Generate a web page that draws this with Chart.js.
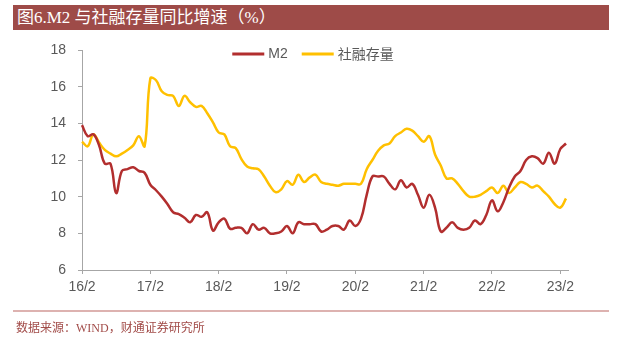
<!DOCTYPE html>
<html>
<head>
<meta charset="utf-8">
<title>M2 与社融存量同比增速</title>
<script src="https://cdn.jsdelivr.net/npm/chart.js@4.4.0/dist/chart.umd.min.js"></script>
<style>
  html, body { margin: 0; padding: 0; background: #fff; }
  #wrap { position: relative; width: 621px; height: 341px; overflow: hidden; }
  #title {
    position: absolute; left: 13px; top: 5px; width: 596px; height: 25px;
    background: #9E4B48; color: #fff; box-sizing: border-box; padding-left: 4px;
    font: 17px/25px "Liberation Serif", "Noto Sans CJK SC", serif;
  }
  #rule { position: absolute; left: 13px; top: 310px; width: 596px; height: 2px; background: #DDB2B0; }
  #source {
    position: absolute; left: 16px; top: 321px;
    font: 12px/14px "Liberation Serif", "Noto Sans CJK SC", serif; color: #A24C49;
  }
  #chart { position: absolute; left: 0; top: 0; }
</style>
</head>
<body>
<div id="wrap">
  <canvas id="chart" width="621" height="341"></canvas>
  <div id="title">图6.M2 与社融存量同比增速（%）</div>
  <div id="rule"></div>
  <div id="source">数据来源：WIND，财通证券研究所</div>
</div>
<script>
// 月度数据 2016/1 - 2023/2（月末值）
const startYear = 2016;
const startMonth = 1;
const monthCount = 86;

// M2 同比（%）
const m2 = [
  13.9, 13.3, 13.4, 12.8, 11.8, 11.8, 10.2, 11.4, 11.5, 11.6, 11.4, 11.3,
  10.65, 10.35, 10.0, 9.6, 9.15, 9.05, 8.85, 8.6, 9.0, 8.9, 9.15, 8.15,
  8.6, 8.8, 8.25, 8.3, 8.3, 8.0, 8.5, 8.2, 8.3, 8.0, 8.0, 8.1,
  8.4, 8.0, 8.6, 8.5, 8.5, 8.5, 8.1, 8.2, 8.4, 8.4, 8.2, 8.7,
  8.4, 8.8, 10.1, 11.1, 11.1, 11.1, 10.7, 10.4, 10.9, 10.5, 10.7, 10.1,
  9.4, 10.1, 9.4, 8.1, 8.3, 8.6, 8.3, 8.2, 8.3, 8.7, 8.5, 9.0,
  9.8, 9.2, 9.7, 10.5, 11.1, 11.4, 12.0, 12.2, 12.1, 11.8, 12.4, 11.8,
  12.6, 12.9
];

// 社融存量同比（%）
const afre = [
  13.0, 12.75, 13.4, 12.95, 12.55, 12.35, 12.2, 12.35, 12.55, 12.8, 13.3, 12.75,
  16.45, 16.35, 15.75, 15.55, 15.5, 14.95, 15.5, 15.15, 14.9, 14.95, 14.55, 14.05,
  13.5, 13.4, 12.75, 12.65, 12.05, 11.65, 11.55, 11.5, 11.1, 10.6, 10.25, 10.4,
  10.85, 10.65, 11.2, 10.8, 11.05, 11.2, 10.8, 10.7, 10.65, 10.6, 10.7, 10.7,
  10.7, 10.7, 11.5, 12.0, 12.5, 12.8, 12.9, 13.3, 13.5, 13.7, 13.6, 13.3,
  13.0, 13.3, 12.3, 11.7, 11.0, 11.0, 10.7, 10.3, 10.0, 10.0, 10.1, 10.3,
  10.5, 10.2, 10.6, 10.2, 10.5, 10.8, 10.7, 10.5, 10.6, 10.3, 10.0, 9.6,
  9.4, 9.9
];

// 每年一个刻度：月末数据点紧挨下月1日，刻度记为次月
const tickLabels = ['16/2', '17/2', '18/2', '19/2', '20/2', '21/2', '22/2', '23/2'];
const yTicks = { min: 6, max: 18, step: 2 };

const months = [];
for (let i = 0; i < monthCount; i++) {
  const m = startMonth - 1 + i;
  const y = startYear + Math.floor(m / 12);
  months.push(y + '-' + String(m % 12 + 1).padStart(2, '0'));
}

const RED = '#B22E2E';
const GOLD = '#FFC000';
const AXIS = '#A6A6A6';
const TEXT = '#595959';

// 图例画在绘图区顶部居中
const topLegend = {
  id: 'topLegend',
  afterDatasetsDraw(chart) {
    const ctx = chart.ctx;
    const items = chart.data.datasets.map(ds => ({
      label: ds.label, color: ds.borderColor,
      font: /^[\x00-\x7F]+$/.test(ds.label) ? '14px "Liberation Sans", Arial' : '14px "Noto Sans CJK SC"'
    }));
    const seg = 32, gap = 4, spacing = 14;
    ctx.save();
    let total = 0;
    items.forEach((it, i) => {
      ctx.font = it.font;
      it.w = ctx.measureText(it.label).width;
      total += seg + gap + it.w + (i ? spacing : 0);
    });
    let x = 313 - total / 2;
    const y = chart.chartArea.top + 4;
    items.forEach(it => {
      ctx.strokeStyle = it.color;
      ctx.lineWidth = 3;
      ctx.beginPath();
      ctx.moveTo(x, y);
      ctx.lineTo(x + seg, y);
      ctx.stroke();
      ctx.font = it.font;
      ctx.fillStyle = TEXT;
      ctx.textBaseline = 'middle';
      ctx.fillText(it.label, x + seg + gap, y);
      x += seg + gap + it.w + spacing;
    });
    ctx.restore();
  }
};

// 横轴线向右多伸出一点
const axisTail = {
  id: 'axisTail',
  afterDraw(chart) {
    const { ctx, chartArea } = chart;
    ctx.save();
    ctx.strokeStyle = AXIS;
    ctx.lineWidth = 1;
    ctx.beginPath();
    ctx.moveTo(chartArea.right, chartArea.bottom + 0.5);
    ctx.lineTo(chartArea.right + 3, chartArea.bottom + 0.5);
    ctx.stroke();
    ctx.restore();
  }
};

new Chart(document.getElementById('chart'), {
  type: 'line',
  data: {
    labels: months,
    datasets: [
      { label: 'M2', data: m2, borderColor: RED, backgroundColor: RED },
      { label: '社融存量', data: afre, borderColor: GOLD, backgroundColor: GOLD }
    ]
  },
  options: {
    responsive: false,
    animation: false,
    layout: { padding: { left: 0, right: 55, top: 50, bottom: 44 } },
    elements: {
      line: { borderWidth: 2.5, tension: 0.4, cubicInterpolationMode: 'default' },
      point: { radius: 0 }
    },
    plugins: { legend: { display: false }, tooltip: { enabled: false } },
    scales: {
      x: {
        type: 'category',
        offset: false,
        afterBuildTicks: s => { s.ticks = s.ticks.filter(t => t.value % 12 === 0); },
        afterFit: s => { s.height = 27; },
        grid: { drawOnChartArea: false, drawTicks: true, tickLength: 4, color: AXIS },
        border: { color: AXIS, width: 1 },
        ticks: {
          autoSkip: false, maxRotation: 0, padding: 5, color: TEXT,
          font: { family: '"Liberation Sans", Arial', size: 14 },
          callback: v => tickLabels[v / 12]
        }
      },
      y: {
        min: yTicks.min,
        max: yTicks.max,
        afterFit: s => { s.width = 82; },
        grid: { drawOnChartArea: false, drawTicks: true, tickLength: 4, color: AXIS },
        border: { color: AXIS, width: 1 },
        ticks: {
          stepSize: yTicks.step, padding: 12, color: TEXT,
          font: { family: '"Liberation Sans", Arial', size: 14 }
        }
      }
    }
  },
  plugins: [topLegend, axisTail]
});
</script>
</body>
</html>
